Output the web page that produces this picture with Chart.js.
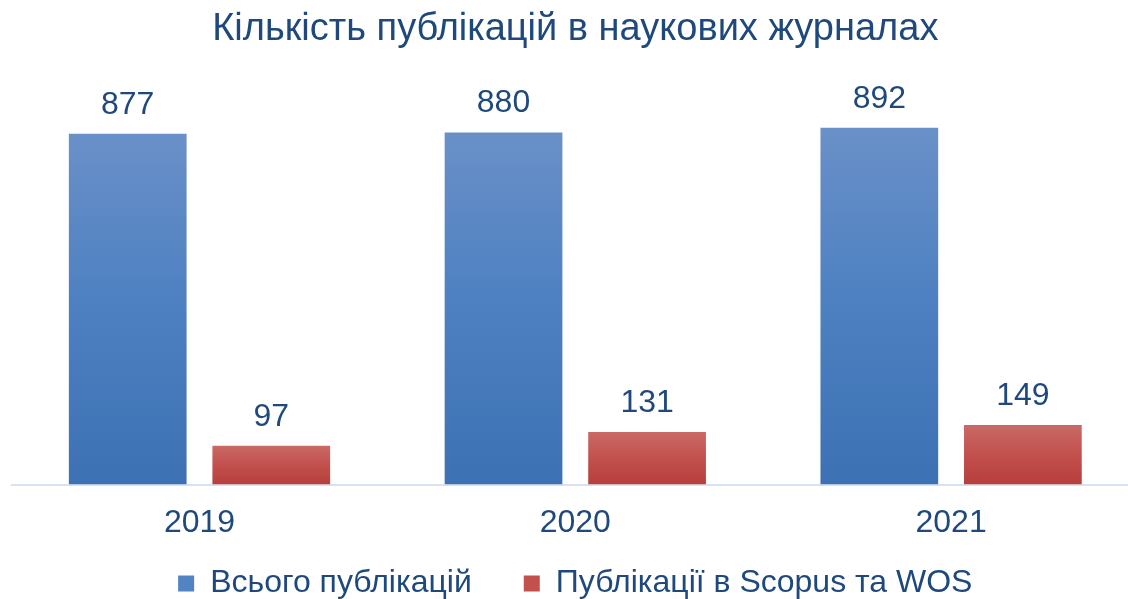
<!DOCTYPE html>
<html>
<head>
<meta charset="utf-8">
<script src="https://cdn.jsdelivr.net/npm/chart.js@4.4.1/dist/chart.umd.min.js"></script>
<style>
  html, body { margin: 0; padding: 0; background: #ffffff; overflow: hidden; }
  #wrap { width: 1128px; height: 599px; overflow: hidden; position: relative; }
  #chart { display: block; }
</style>
</head>
<body>
<div id="wrap"><canvas id="chart" width="1139" height="599"></canvas></div>
<script>
const chartTitle = 'Кількість публікацій в наукових журналах';
const years = ['2019', '2020', '2021'];
const seriesNames = ['Всього публікацій', 'Публікації в Scopus та WOS'];
const totalPubs = [877, 880, 892];
const scopusWosPubs = [97, 131, 149];

const TEXT = '#1F497D';
const FONT = '"Liberation Sans", Arial, sans-serif';

function barGradient(stops, fallback) {
  return (c) => {
    const chart = c.chart;
    if (!chart.chartArea || c.type !== 'data') return fallback;
    const y = chart.scales.y;
    const y0 = y.getPixelForValue(0);
    const y1 = y.getPixelForValue(c.raw);
    const g = chart.ctx.createLinearGradient(0, y1, 0, y0);
    stops.forEach(([o, col]) => g.addColorStop(o, col));
    return g;
  };
}

const valueLabels = {
  id: 'valueLabels',
  afterDatasetsDraw(chart) {
    const ctx = chart.ctx;
    ctx.save();
    ctx.font = '32px ' + FONT;
    ctx.fillStyle = TEXT;
    ctx.textAlign = 'center';
    ctx.textBaseline = 'middle';
    chart.data.datasets.forEach((ds, i) => {
      chart.getDatasetMeta(i).data.forEach((bar, j) => {
        ctx.fillText(String(ds.data[j]), bar.x, bar.y - 29);
      });
    });
    ctx.restore();
  }
};

const legendFills = ['#5283C3', '#C2504D'];

new Chart(document.getElementById('chart'), {
  type: 'bar',
  data: {
    labels: years,
    datasets: [
      {
        label: seriesNames[0],
        data: totalPubs,
        backgroundColor: barGradient([[0, '#6A90C8'], [0.5, '#4C80C1'], [1, '#3C71B3']], '#4F81BD'),
        categoryPercentage: 0.764,
        barPercentage: 0.82
      },
      {
        label: seriesNames[1],
        data: scopusWosPubs,
        backgroundColor: barGradient([[0, '#C96A66'], [0.5, '#C2504D'], [1, '#B73E3B']], '#C0504D'),
        categoryPercentage: 0.764,
        barPercentage: 0.82
      }
    ]
  },
  options: {
    responsive: false,
    maintainAspectRatio: false,
    animation: false,
    devicePixelRatio: 1,
    layout: { padding: { left: 11.6, right: 0, top: 0, bottom: -10.5 } },
    plugins: {
      title: {
        display: true,
        text: chartTitle,
        color: TEXT,
        font: { family: FONT, size: 38, weight: 'normal', lineHeight: 1.2 },
        padding: { top: 7, bottom: 31.9 }
      },
      legend: {
        position: 'bottom',
        labels: {
          color: TEXT,
          font: { family: FONT, size: 32 },
          boxWidth: 16,
          boxHeight: 16,
          padding: 52,
          generateLabels(chart) {
            const items = Chart.defaults.plugins.legend.labels.generateLabels(chart);
            items.forEach((it, i) => { it.fillStyle = legendFills[i]; it.strokeStyle = legendFills[i]; it.lineWidth = 0; });
            return items;
          }
        }
      },
      tooltip: { enabled: false }
    },
    scales: {
      x: {
        grid: { display: false, drawTicks: false },
        border: { display: true, color: '#D9E2F0', width: 2 },
        ticks: {
          color: TEXT,
          font: { family: FONT, size: 32, lineHeight: 1.0 },
          mirror: true,
          crossAlign: 'far',
          padding: -39
        },
        afterFit(scale) { scale.height = 31; }
      },
      y: {
        display: false,
        min: 0,
        max: 1000
      }
    }
  },
  plugins: [valueLabels]
});
</script>
</body>
</html>
